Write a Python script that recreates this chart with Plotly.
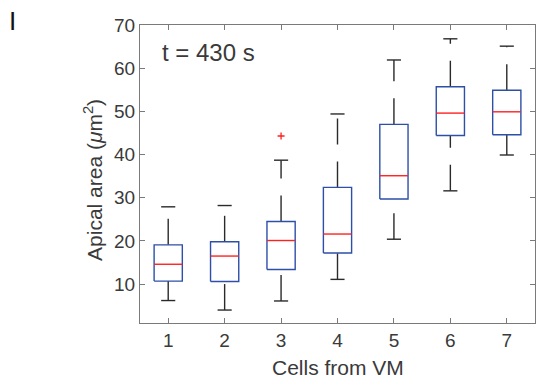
import plotly.graph_objects as go

# ---- data ----
cells = [1, 2, 3, 4, 5, 6, 7]
lower_whisker = [6.2, 4.0, 6.1, 11.1, 20.4, 31.6, 39.9]
q1 = [10.7, 10.6, 13.4, 17.2, 29.7, 44.4, 44.6]
median = [14.6, 16.5, 20.1, 21.6, 35.1, 49.6, 49.9]
q3 = [19.1, 19.8, 24.5, 32.4, 47.0, 55.7, 54.9]
upper_whisker = [27.9, 28.2, 38.7, 49.4, 61.9, 66.8, 65.1]
outlier_x = [3]
outlier_y = [44.3]
y_ticks = [10, 20, 30, 40, 50, 60, 70]

# ---- styles ----
FONT = "Liberation Sans, Arial, Helvetica, sans-serif"
BOX_COLOR = "#2d4fa8"
MED_COLOR = "#ff2020"
WHISK_COLOR = "#2a2a2a"
AX_COLOR = "#7a7a7a"
TXT_COLOR = "#3a3a3a"
HALF_BOX = 0.25
HALF_CAP = 0.125

bx, by, mx, my, cx, cy, wx, wy = [], [], [], [], [], [], [], []
for c, lw, a, m, b, uw in zip(cells, lower_whisker, q1, median, q3, upper_whisker):
    bx += [c - HALF_BOX, c + HALF_BOX, c + HALF_BOX, c - HALF_BOX, c - HALF_BOX, None]
    by += [a, a, b, b, a, None]
    mx += [c - HALF_BOX, c + HALF_BOX, None]
    my += [m, m, None]
    cx += [c - HALF_CAP, c + HALF_CAP, None, c - HALF_CAP, c + HALF_CAP, None]
    cy += [lw, lw, None, uw, uw, None]
    # whiskers drawn from lower to higher value (dash pattern starts at the low end)
    wx += [c, c, None, c, c, None]
    wy += [lw, a, None, b, uw, None]

fig = go.Figure()
fig.add_trace(go.Scatter(x=wx, y=wy, mode="lines", hoverinfo="skip",
                         line=dict(color=WHISK_COLOR, width=1.4, dash="26px,17px")))
fig.add_trace(go.Scatter(x=cx, y=cy, mode="lines", hoverinfo="skip",
                         line=dict(color=WHISK_COLOR, width=1.4)))
fig.add_trace(go.Scatter(x=bx, y=by, mode="lines", hoverinfo="skip",
                         line=dict(color=BOX_COLOR, width=1.4)))
fig.add_trace(go.Scatter(x=mx, y=my, mode="lines", hoverinfo="skip",
                         line=dict(color=MED_COLOR, width=1.4)))
fig.add_trace(go.Scatter(x=outlier_x, y=outlier_y, mode="markers", hoverinfo="skip",
                         marker=dict(symbol="cross-thin", size=5,
                                     line=dict(color=MED_COLOR, width=1.3))))

axis_common = dict(showline=True, mirror="allticks", linecolor=AX_COLOR, linewidth=1,
                   ticks="inside", ticklen=5, tickcolor=AX_COLOR, tickwidth=1,
                   showgrid=False, zeroline=False,
                   tickfont=dict(family=FONT, size=19, color=TXT_COLOR))

fig.update_layout(
    width=536, height=378,
    margin=dict(l=140, r=1, t=25, b=55),
    paper_bgcolor="white", plot_bgcolor="white",
    showlegend=False,
    xaxis=dict(range=[0.5, 7.5], tickmode="array", tickvals=cells,
               ticktext=[str(c) for c in cells], **axis_common),
    yaxis=dict(range=[1, 70], tickmode="array", tickvals=y_ticks,
               ticktext=[str(t) for t in y_ticks], **axis_common),
    annotations=[
        dict(text="t = 430 s", xref="paper", yref="paper", x=0.05, y=0.909,
             xanchor="left", yanchor="middle", showarrow=False,
             font=dict(family=FONT, size=24, color=TXT_COLOR)),
        dict(text="I", xref="paper", yref="paper", x=-0.324, y=1.013,
             xanchor="center", yanchor="middle", showarrow=False,
             font=dict(family=FONT, size=26, color="#111111")),
        dict(text="Apical area (<i>μ</i>m<sup>2</sup>)", xref="paper", yref="paper",
             x=-0.119, y=0.48, xanchor="center", yanchor="middle", textangle=-90,
             showarrow=False, font=dict(family=FONT, size=21, color=TXT_COLOR)),
        dict(text="Cells from VM", xref="paper", yref="paper", x=0.5, y=-0.148,
             xanchor="center", yanchor="middle", showarrow=False,
             font=dict(family=FONT, size=21, color=TXT_COLOR)),
    ],
)

fig.write_html("out.html")
